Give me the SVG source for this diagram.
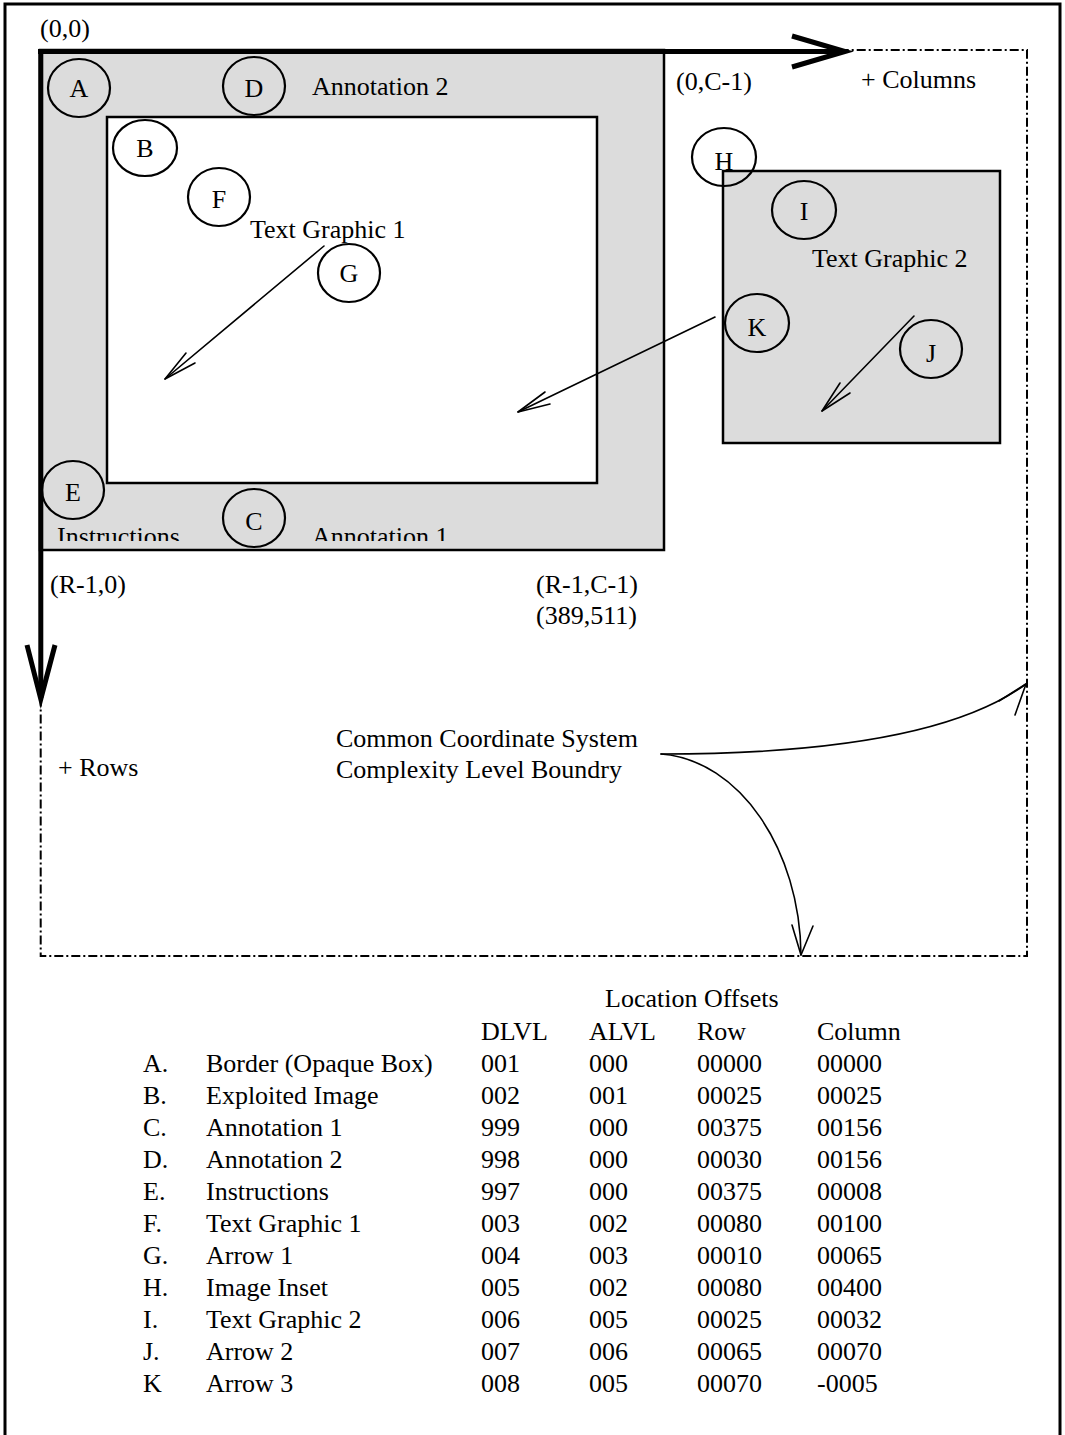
<svg xmlns="http://www.w3.org/2000/svg" width="1065" height="1435" viewBox="0 0 1065 1435">
  <style>
    text { font-family: "Liberation Serif", "Times New Roman", serif; font-size: 26px; fill: #000; }
    .mid { text-anchor: middle; }
    .tag { fill: none; stroke: #000; stroke-width: 2.2; }
    .thin { fill: none; stroke: #000; stroke-width: 1.6; stroke-linecap: round; stroke-linejoin: round; }
    .axis { fill: none; stroke: #000; stroke-width: 5; }
    .boundary { fill: none; stroke: #000; stroke-width: 2; stroke-dasharray: 9 3 2 3; }
    .panel { fill: #dcdcdc; stroke: #000; stroke-width: 2.5; }
  </style>
  <defs>
    <clipPath id="bottomBand">
      <rect x="40" y="500" width="630" height="41"/>
    </clipPath>
  </defs>

  <!-- page frame -->
  <rect x="5" y="4" width="1055" height="1445" fill="#fff" stroke="#000" stroke-width="3"/>

  <!-- common coordinate system / complexity level boundary -->
  <rect class="boundary" x="40.7" y="50" width="986.3" height="906"/>

  <!-- A: border (opaque box) -->
  <g id="border-box">
    <rect class="panel" x="40" y="50" width="624" height="500"/>
  </g>

  <!-- B: exploited image -->
  <g id="exploited-image">
    <rect x="107" y="117" width="490" height="366" fill="#fff" stroke="#000" stroke-width="2.5"/>
  </g>

  <!-- H: image inset -->
  <g id="image-inset">
    <rect class="panel" x="723" y="171" width="277" height="272" stroke-width="2"/>
  </g>

  <!-- row / column axes -->
  <g id="axes">
    <line class="axis" x1="38" y1="51.5" x2="844" y2="51.5"/>
    <polyline class="axis" points="792,36 845,51.5 792,67" stroke-linejoin="miter"/>
    <line class="axis" x1="40.8" y1="49" x2="40.8" y2="698"/>
    <polyline class="axis" points="27,645 40.8,699 55,645" stroke-linejoin="miter"/>
  </g>

  <!-- corner and axis labels -->
  <g id="labels">
    <text x="40" y="37">(0,0)</text>
    <text x="676" y="90">(0,C-1)</text>
    <text x="861" y="88">+ Columns</text>
    <text x="50" y="593">(R-1,0)</text>
    <text x="536" y="593">(R-1,C-1)</text>
    <text x="536" y="624">(389,511)</text>
    <text x="58" y="776">+ Rows</text>
    <text x="336" y="747">Common Coordinate System</text>
    <text x="336" y="778">Complexity Level Boundry</text>
  </g>

  <!-- D: annotation 2 -->
  <g id="annotation-2">
    <text x="312" y="95">Annotation 2</text>
  </g>

  <!-- C: annotation 1, E: instructions (cut by the band edge) -->
  <g id="annotation-1" clip-path="url(#bottomBand)">
    <text x="312" y="545">Annotation 1</text>
  </g>
  <g id="instructions" clip-path="url(#bottomBand)">
    <text x="57" y="545">Instructions</text>
  </g>

  <!-- F / I: text graphics -->
  <g id="text-graphic-1">
    <text x="250" y="238">Text Graphic 1</text>
  </g>
  <g id="text-graphic-2">
    <text x="812" y="267">Text Graphic 2</text>
  </g>

  <!-- arrows G, K, J -->
  <g id="connectors">
    <line class="thin" x1="324" y1="246" x2="165" y2="379"/>
    <polyline class="thin" points="186,353 165,379 195,363"/>
    <line class="thin" x1="715" y1="317" x2="518" y2="412"/>
    <polyline class="thin" points="545,392 518,412 550,404"/>
    <line class="thin" x1="914" y1="316" x2="822" y2="411"/>
    <polyline class="thin" points="840,383 822,411 850,393"/>
    <!-- boundary callouts -->
    <path class="thin" d="M661,754 C800,754 950,740 1026,684"/>
    <polyline class="thin" points="999,701 1026,684 1015,715"/>
    <path class="thin" d="M661,754 C740,760 800,850 801,955"/>
    <polyline class="thin" points="792,925 801,955 813,926"/>
  </g>

  <!-- lettered callouts -->
  <g id="callout-A"><ellipse class="tag" cx="79" cy="88" rx="31" ry="29"/><text class="mid" x="79" y="97">A</text></g>
  <g id="callout-D"><ellipse class="tag" cx="254" cy="86" rx="31" ry="29"/><text class="mid" x="254" y="97">D</text></g>
  <g id="callout-B"><ellipse class="tag" cx="145" cy="148" rx="32" ry="28"/><text class="mid" x="145" y="157">B</text></g>
  <g id="callout-F"><ellipse class="tag" cx="219" cy="197" rx="31" ry="29"/><text class="mid" x="219" y="208">F</text></g>
  <g id="callout-G"><ellipse class="tag" cx="349" cy="273" rx="31" ry="29"/><text class="mid" x="349" y="282">G</text></g>
  <g id="callout-H"><ellipse class="tag" cx="724" cy="157" rx="32" ry="29"/><text class="mid" x="724" y="170">H</text></g>
  <g id="callout-I"><ellipse class="tag" cx="804" cy="210" rx="32" ry="29"/><text class="mid" x="804" y="220">I</text></g>
  <g id="callout-K"><ellipse class="tag" cx="757" cy="323" rx="32" ry="29"/><text class="mid" x="757" y="336">K</text></g>
  <g id="callout-J"><ellipse class="tag" cx="931" cy="349" rx="31" ry="29"/><text class="mid" x="931" y="362">J</text></g>
  <g id="callout-E"><ellipse class="tag" cx="73" cy="490" rx="31" ry="29"/><text class="mid" x="73" y="501">E</text></g>
  <g id="callout-C"><ellipse class="tag" cx="254" cy="518" rx="31" ry="29"/><text class="mid" x="254" y="530">C</text></g>

  <!-- location offsets table -->
  <g id="offsets-table">
    <text x="605" y="1007">Location Offsets</text>
    <text x="481" y="1040">DLVL</text>
    <text x="589" y="1040">ALVL</text>
    <text x="697" y="1040">Row</text>
    <text x="817" y="1040">Column</text>

    <text x="143" y="1072">A.</text><text x="206" y="1072">Border (Opaque Box)</text><text x="481" y="1072">001</text><text x="589" y="1072">000</text><text x="697" y="1072">00000</text><text x="817" y="1072">00000</text>
    <text x="143" y="1104">B.</text><text x="206" y="1104">Exploited Image</text><text x="481" y="1104">002</text><text x="589" y="1104">001</text><text x="697" y="1104">00025</text><text x="817" y="1104">00025</text>
    <text x="143" y="1136">C.</text><text x="206" y="1136">Annotation 1</text><text x="481" y="1136">999</text><text x="589" y="1136">000</text><text x="697" y="1136">00375</text><text x="817" y="1136">00156</text>
    <text x="143" y="1168">D.</text><text x="206" y="1168">Annotation 2</text><text x="481" y="1168">998</text><text x="589" y="1168">000</text><text x="697" y="1168">00030</text><text x="817" y="1168">00156</text>
    <text x="143" y="1200">E.</text><text x="206" y="1200">Instructions</text><text x="481" y="1200">997</text><text x="589" y="1200">000</text><text x="697" y="1200">00375</text><text x="817" y="1200">00008</text>
    <text x="143" y="1232">F.</text><text x="206" y="1232">Text Graphic 1</text><text x="481" y="1232">003</text><text x="589" y="1232">002</text><text x="697" y="1232">00080</text><text x="817" y="1232">00100</text>
    <text x="143" y="1264">G.</text><text x="206" y="1264">Arrow 1</text><text x="481" y="1264">004</text><text x="589" y="1264">003</text><text x="697" y="1264">00010</text><text x="817" y="1264">00065</text>
    <text x="143" y="1296">H.</text><text x="206" y="1296">Image Inset</text><text x="481" y="1296">005</text><text x="589" y="1296">002</text><text x="697" y="1296">00080</text><text x="817" y="1296">00400</text>
    <text x="143" y="1328">I.</text><text x="206" y="1328">Text Graphic 2</text><text x="481" y="1328">006</text><text x="589" y="1328">005</text><text x="697" y="1328">00025</text><text x="817" y="1328">00032</text>
    <text x="143" y="1360">J.</text><text x="206" y="1360">Arrow 2</text><text x="481" y="1360">007</text><text x="589" y="1360">006</text><text x="697" y="1360">00065</text><text x="817" y="1360">00070</text>
    <text x="143" y="1392">K</text><text x="206" y="1392">Arrow 3</text><text x="481" y="1392">008</text><text x="589" y="1392">005</text><text x="697" y="1392">00070</text><text x="817" y="1392">-0005</text>
  </g>
</svg>
